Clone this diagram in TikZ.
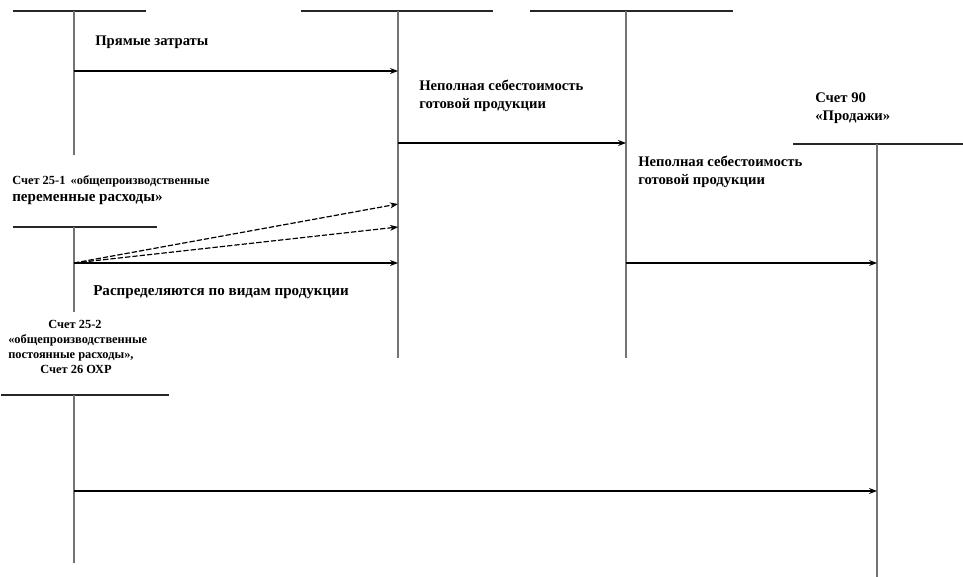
\documentclass[tikz,border=0pt]{standalone}
\usepackage{fontspec}
\setmainfont{Liberation Serif}
\usetikzlibrary{arrows.meta}
\begin{document}
\begin{tikzpicture}[x=0.75pt,y=-0.75pt,
  tline/.style={black!85,line width=1.3pt},
  vline/.style={black!55,line width=0.8pt},
  flow/.style={black,line width=0.9pt,-{Stealth[length=6pt,width=4.5pt]}},
  dflow/.style={flow,dash pattern=on 4pt off 1.5pt},
  lbl/.style={anchor=base west,inner sep=0pt,align=left,font=\bfseries\fontsize{11}{13.5}\selectfont},
  big/.style={lbl,font=\bfseries\fontsize{11.3}{14}\selectfont},
  small/.style={lbl,font=\bfseries\fontsize{9.3}{11}\selectfont},
  ]
\useasboundingbox (0,0) rectangle (963,577);
% T-accounts
\draw[tline] (13,11) -- (146,11);
\draw[vline] (74,11) coordinate (a1t) -- (74,155) coordinate (a1b);
\draw[tline] (301,11) -- (493,11);
\draw[vline] (398,11) coordinate (a2t) -- (398,358) coordinate (a2b);
\draw[tline] (530,11) -- (733,11);
\draw[vline] (626,11) coordinate (a3t) -- (626,358) coordinate (a3b);
\draw[tline] (793,144) -- (963,144);
\draw[vline] (877,144) coordinate (a4t) -- (877,577) coordinate (a4b);
\draw[tline] (13,227) -- (157,227);
\draw[vline] (74,227) coordinate (a5t) -- (74,312) coordinate (a5b);
\draw[tline] (1,395) -- (169,395);
\draw[vline] (74,395) coordinate (a6t) -- (74,563) coordinate (a6b);
% connector end points
\coordinate (p1s) at (74,71);   \coordinate (p1e) at (398,71);
\coordinate (p2s) at (398,143); \coordinate (p2e) at (626,143);
\coordinate (p3s) at (74,263);
\coordinate (p3a) at (398,204); \coordinate (p3b) at (398,227); \coordinate (p3c) at (398,263);
\coordinate (p4s) at (626,263); \coordinate (p4e) at (877,263);
\coordinate (p5s) at (74,491);  \coordinate (p5e) at (877,491);
\draw[flow] (p1s) -- (p1e);
\draw[flow] (p2s) -- (p2e);
\draw[dflow] (p3s) -- (p3a);
\draw[dflow] (p3s) -- (p3b);
\draw[flow] (p3s) -- (p3c);
\draw[flow] (p4s) -- (p4e);
\draw[flow] (p5s) -- (p5e);
% labels (base anchor = baseline of the last line)
\node[lbl] (t1) at (95,46) {Прямые затраты};
\node[lbl] (t2) at (419,109) {Неполная себестоимость\\готовой продукции};
\node[lbl] (t3) at (815,121) {Счет 90\\«Продажи»};
\node[lbl] (t4) at (638,185) {Неполная себестоимость\\готовой продукции};
\node[small] (t5) at (12,185) {Счет 25-1 \,«общепроизводственные};
\node[big] (t6) at (12,202) {переменные расходы»};
\node[big] (t7) at (93,296) {Распределяются по видам продукции};
\node[small,anchor=base] (t8) at (75,328) {Счет 25-2};
\node[small] (t9) at (8,343) {«общепроизводственные};
\node[small] (t10) at (8,358) {постоянные расходы»,};
\node[small,anchor=base] (t11) at (76,373) {Счет 26 ОХР};
\end{tikzpicture}
\end{document}
